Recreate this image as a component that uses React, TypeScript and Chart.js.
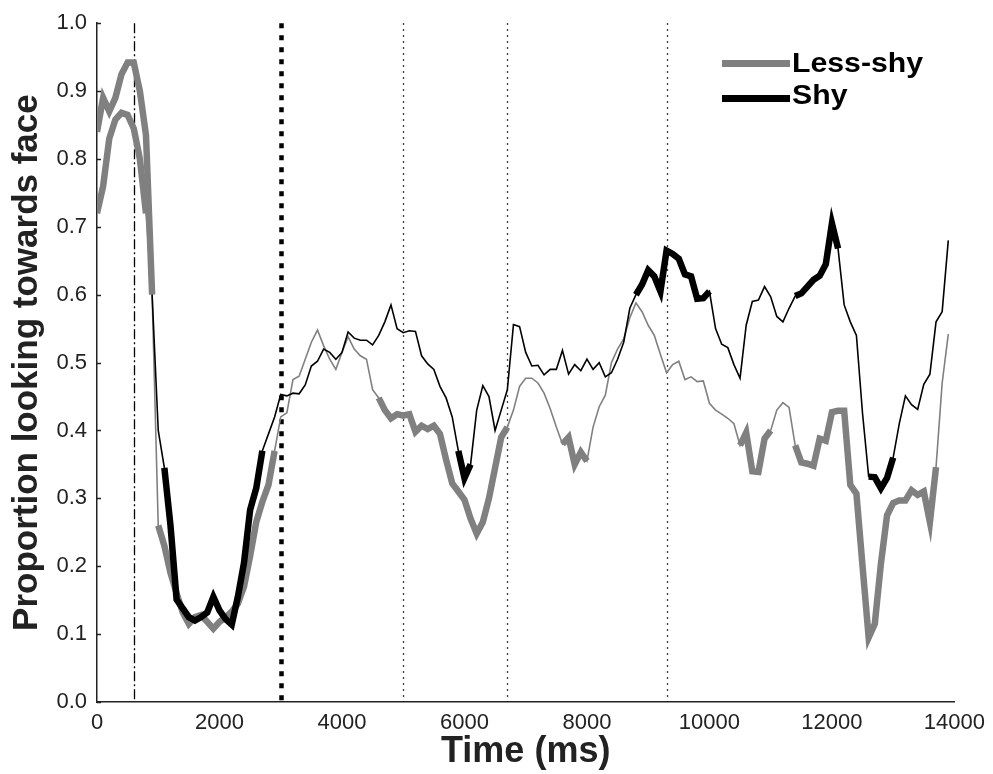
import React, { useEffect, useRef } from "react";
import { Chart, registerables } from "chart.js";
Chart.register(...registerables);

// ---------- data ----------
const TIME_START_MS = 0;
const TIME_STEP_MS = 100;

const LESS_SHY = [
  0.72, 0.76, 0.83, 0.858, 0.868, 0.865, 0.845, 0.80, 0.72, 0.60,
  0.26, 0.23, 0.19, 0.16, 0.132, 0.115, 0.125, 0.128, 0.118, 0.108,
  0.118, 0.125, 0.133, 0.145, 0.17, 0.215, 0.265, 0.295, 0.32, 0.37,
  0.42, 0.426, 0.475, 0.48, 0.505, 0.53, 0.548, 0.525, 0.505, 0.49,
  0.515, 0.538, 0.52, 0.51, 0.505, 0.46, 0.448, 0.43, 0.418, 0.424,
  0.422, 0.424, 0.398, 0.407, 0.402, 0.407, 0.395, 0.357, 0.322, 0.31,
  0.298, 0.27, 0.248, 0.265, 0.30, 0.345, 0.39, 0.405, 0.43, 0.465,
  0.477, 0.477, 0.47, 0.455, 0.432, 0.405, 0.38, 0.39, 0.35, 0.368,
  0.355, 0.405, 0.435, 0.452, 0.50, 0.52, 0.535, 0.566, 0.588, 0.575,
  0.555, 0.54, 0.512, 0.485, 0.497, 0.502, 0.475, 0.479, 0.472, 0.473,
  0.44, 0.43, 0.424, 0.418, 0.41, 0.378, 0.397, 0.34, 0.339, 0.388,
  0.40, 0.43, 0.441, 0.434, 0.378, 0.353, 0.351, 0.348, 0.388, 0.385,
  0.427, 0.429, 0.429, 0.32, 0.307, 0.20, 0.095, 0.115, 0.204, 0.275,
  0.293, 0.297, 0.297, 0.312, 0.305, 0.31, 0.265, 0.346, 0.47, 0.542,
];

const SHY = [
  0.84, 0.89, 0.87, 0.89, 0.925, 0.942, 0.942, 0.90, 0.835, 0.60,
  0.40, 0.345, 0.26, 0.151, 0.138, 0.125, 0.12, 0.125, 0.132, 0.155,
  0.135, 0.122, 0.114, 0.155, 0.205, 0.283, 0.315, 0.37, 0.395, 0.42,
  0.453, 0.451, 0.455, 0.454, 0.467, 0.495, 0.502, 0.52, 0.515, 0.505,
  0.515, 0.545, 0.536, 0.533, 0.533, 0.526, 0.54, 0.56, 0.585, 0.55,
  0.544, 0.547, 0.546, 0.51, 0.498, 0.49, 0.465, 0.448, 0.42, 0.37,
  0.33, 0.35, 0.43, 0.466, 0.45, 0.40, 0.43, 0.46, 0.556, 0.553,
  0.515, 0.495, 0.496, 0.482, 0.49, 0.49, 0.518, 0.483, 0.497, 0.488,
  0.505, 0.49, 0.50, 0.479, 0.485, 0.505, 0.53, 0.58, 0.60, 0.615,
  0.636, 0.627, 0.605, 0.665, 0.66, 0.653, 0.63, 0.627, 0.594, 0.595,
  0.605, 0.55, 0.527, 0.522, 0.497, 0.477, 0.555, 0.59, 0.592, 0.612,
  0.597, 0.568, 0.56, 0.58, 0.598, 0.602, 0.612, 0.622, 0.628, 0.645,
  0.705, 0.668, 0.585, 0.56, 0.54, 0.425, 0.332, 0.331, 0.315, 0.33,
  0.36, 0.41, 0.451, 0.438, 0.431, 0.468, 0.483, 0.56, 0.575, 0.68,
];

const TIMES = LESS_SHY.map((_, i) => TIME_START_MS + i * TIME_STEP_MS);

// thick (highlighted) stretches, in ms
const LESS_SHY_THICK: [number, number][] = [
  [0, 800], [1000, 2900], [4600, 6700], [7600, 8000], [10500, 11000], [11400, 13700],
];
const SHY_THICK_GRAY: [number, number][] = [[0, 900]];
const SHY_THICK: [number, number][] = [
  [1100, 2700], [5900, 6100], [8800, 10000], [11400, 12100], [12600, 13000],
];

const MARKER_TIMES = [600, 3000, 5000, 6700, 9300];
const MARKER_KINDS = ["dashdot", "thickdot", "dot", "dot", "dot"];

const SERIES_LABELS = ["Less-shy", "Shy"];
const SERIES_COLORS = ["#808080", "#000000"];

const X_MIN = 0, X_MAX = 14000, X_STEP = 2000;
const Y_MIN = 0, Y_MAX = 1, Y_STEP = 0.1;

// ---------- helpers ----------
const toPoints = (vals: (number | null)[]) => vals.map((v, i) => ({ x: TIMES[i], y: v }));
const masked = (vals: number[], ranges: [number, number][]) =>
  vals.map((v, i) => (ranges.some(([a, b]) => TIMES[i] >= a && TIMES[i] <= b) ? v : null));

const markerPlugin = {
  id: "markers",
  beforeDatasetsDraw(chart: any) {
    const { ctx, chartArea, scales } = chart;
    const x = scales.x;
    ctx.save();
    MARKER_TIMES.forEach((t, i) => {
      const px = Math.round(x.getPixelForValue(t)) + 0.5;
      const kind = MARKER_KINDS[i];
      ctx.beginPath();
      ctx.strokeStyle = "#000";
      if (kind === "dashdot") {
        ctx.lineWidth = 1.3;
        ctx.setLineDash([10, 3, 2, 3]);
      } else if (kind === "thickdot") {
        ctx.lineWidth = 4.5;
        ctx.setLineDash([5, 7]);
      } else {
        ctx.lineWidth = 1.3;
        ctx.setLineDash([1.5, 4.5]);
      }
      ctx.moveTo(px, chartArea.top);
      ctx.lineTo(px, chartArea.bottom);
      ctx.stroke();
    });
    ctx.restore();
  },
};

const inwardTicksPlugin = {
  id: "inwardTicks",
  afterDraw(chart: any) {
    const { ctx, chartArea, scales } = chart;
    const y = scales.y;
    ctx.save();
    ctx.strokeStyle = "#222";
    ctx.lineWidth = 1.5;
    y.ticks.forEach((t: any) => {
      const py = Math.round(y.getPixelForValue(t.value)) + 0.5;
      ctx.beginPath();
      ctx.moveTo(chartArea.left, py);
      ctx.lineTo(chartArea.left + 4, py);
      ctx.stroke();
    });
    ctx.restore();
  },
};

export default function App() {
  const ref = useRef<HTMLCanvasElement | null>(null);

  useEffect(() => {
    if (!ref.current) return;
    const thin = 1.6;
    const thick = 6.5;
    const common = {
      pointRadius: 0,
      tension: 0,
      spanGaps: false,
      borderJoinStyle: "miter" as const,
      borderCapStyle: "butt" as const,
      fill: false,
    };
    const tickFont = { family: "'Liberation Sans', Arial, sans-serif", size: 22 };
    const chart = new Chart(ref.current, {
      type: "line",
      data: {
        datasets: [
          { ...common, label: SERIES_LABELS[1] + " (highlight)", data: toPoints(masked(SHY, SHY_THICK)), borderColor: SERIES_COLORS[1], borderWidth: thick, order: 0 },
          { ...common, label: SERIES_LABELS[1] + " (early highlight)", data: toPoints(masked(SHY, SHY_THICK_GRAY)), borderColor: SERIES_COLORS[0], borderWidth: thick, order: 1 },
          { ...common, label: SERIES_LABELS[0] + " (highlight)", data: toPoints(masked(LESS_SHY, LESS_SHY_THICK)), borderColor: SERIES_COLORS[0], borderWidth: thick, order: 2 },
          { ...common, label: SERIES_LABELS[1], data: toPoints(SHY), borderColor: SERIES_COLORS[1], borderWidth: thin, order: 3 },
          { ...common, label: SERIES_LABELS[0], data: toPoints(LESS_SHY), borderColor: SERIES_COLORS[0], borderWidth: thin, order: 4 },
        ],
      },
      options: {
        animation: false,
        responsive: false,
        devicePixelRatio: 1,
        layout: { padding: { left: 0, top: 21, right: 38, bottom: 0 } },
        plugins: { legend: { display: false }, tooltip: { enabled: false } },
        scales: {
          x: {
            type: "linear",
            min: X_MIN,
            max: X_MAX,
            afterFit: (s: any) => { s.height = 72; },
            grid: { display: false, drawTicks: false },
            border: { display: true, color: "#222", width: 1.5 },
            ticks: {
              stepSize: X_STEP,
              padding: 8,
              color: "#222",
              font: tickFont,
              maxRotation: 0,
              callback: (v: any) => String(v),
            },
            title: {
              display: true,
              text: "Time (ms)",
              color: "#222",
              padding: { top: 0, bottom: 0 },
              font: { family: "'Liberation Sans', Arial, sans-serif", size: 36, weight: "bold", lineHeight: 1.2 },
            },
          },
          y: {
            type: "linear",
            min: Y_MIN,
            max: Y_MAX,
            afterFit: (s: any) => { s.width = 97; },
            grid: { display: false, drawTicks: false },
            border: { display: true, color: "#222", width: 1.5 },
            ticks: {
              stepSize: Y_STEP,
              padding: 10,
              color: "#222",
              font: tickFont,
              callback: (v: any) => Number(v).toFixed(1),
            },
            title: {
              display: true,
              text: "Proportion looking towards face",
              color: "#222",
              padding: { top: 6, bottom: 0 },
              font: { family: "'Liberation Sans', Arial, sans-serif", size: 35, weight: "bold", lineHeight: 1.2 },
            },
          },
        },
      },
      plugins: [markerPlugin, inwardTicksPlugin],
    });
    return () => chart.destroy();
  }, []);

  const legendRows = [
    { label: SERIES_LABELS[0], color: SERIES_COLORS[0], lineTop: 59.5, textTop: 50 },
    { label: SERIES_LABELS[1], color: SERIES_COLORS[1], lineTop: 95, textTop: 81.5 },
  ];

  return (
    <div style={{ position: "absolute", left: 0, top: 0, width: 993, height: 774, background: "#fff" }}>
      <canvas ref={ref} width={993} height={774} style={{ display: "block" }} />
      {legendRows.map((r) => (
        <React.Fragment key={r.label}>
          <div style={{ position: "absolute", left: 722, top: r.lineTop, width: 68, height: 7, background: r.color }} />
          <div
            style={{
              position: "absolute",
              left: 792,
              top: r.textTop,
              fontFamily: "'Liberation Sans', Arial, sans-serif",
              fontWeight: "bold",
              fontSize: 27,
              lineHeight: "27px",
              color: "#000",
              whiteSpace: "nowrap",
              transform: "scaleX(1.12)",
              transformOrigin: "left center",
            }}
          >
            {r.label}
          </div>
        </React.Fragment>
      ))}
    </div>
  );
}
